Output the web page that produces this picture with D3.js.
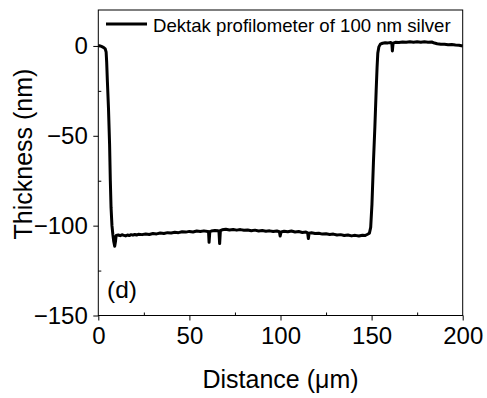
<!DOCTYPE html>
<html>
<head>
<meta charset="utf-8">
<script src="https://cdn.jsdelivr.net/npm/d3@7"></script>
<style>
  html, body { margin: 0; padding: 0; background: #fff; }
  svg text { font-family: "Liberation Sans", Arial, sans-serif; fill: #000; }
</style>
</head>
<body>
<svg id="chart" width="487" height="398"></svg>
<script>
// Surface profile across a 100 nm silver step (Dektak stylus scan)
const distance = [
  0, 1, 2, 3, 3.8, 4.3, 4.6, 5.0, 5.6, 6.2, 6.6, 7.0, 7.5, 8.0, 8.5, 9.0, 9.4, 9.8,
  11, 12, 13, 14, 15, 16, 17, 18, 19, 20, 21, 22, 24, 26, 28, 30, 32, 34, 36, 38,
  40, 42, 44, 46, 48, 50, 52, 54, 56, 58, 60, 60.5, 60.8, 61.2, 62, 64, 65.8, 66.2,
  66.6, 67.0, 68, 70, 72, 74, 76, 78, 80, 82, 84, 86, 88, 90, 92, 94, 96, 98, 99.4,
  99.8, 100.3, 102, 104, 106, 108, 110, 112, 114, 114.9, 115.3, 115.7, 117, 119,
  121, 123, 125, 127, 129, 131, 133, 135, 137, 139, 141, 143, 145, 146.5, 147.8,
  148.8, 149.5, 150.2, 151, 151.8, 152.5, 153, 153.4, 154, 154.8, 156, 157.5, 159,
  160.5, 161.1, 161.4, 161.8, 163, 165, 167, 169, 171, 173, 175, 177, 179, 181, 183,
  184.5, 186, 188, 190, 192, 194, 196, 198, 200
];
const thickness = [
  0.2, 0.0, -0.4, -0.9, -1.6, -3.5, -9, -20, -35, -55, -75, -90, -100, -105, -109, -111.5, -109, -105.5,
  -105.2, -105.6, -105.1, -105.4, -105.7, -105.2, -105.5, -105.0, -105.3, -104.9, -105.2, -104.8, -105.0, -104.6, -104.9, -104.4, -104.6, -104.1, -104.4, -103.9,
  -104.1, -103.7, -103.9, -103.4, -103.6, -103.2, -103.5, -103.0, -103.3, -102.9, -103.2, -103.4, -109.3, -103.3, -103.0, -102.7, -102.9, -103.0,
  -110, -102.8, -102.3, -102.0, -102.4, -102.1, -102.5, -102.2, -102.6, -102.4, -102.8, -102.5, -103.0, -102.7, -103.1, -102.9, -103.3, -103.0, -103.4,
  -105.8, -103.5, -103.1, -103.4, -103.0, -103.5, -103.3, -103.8, -103.6, -104.0, -107.2, -104.2, -104.0, -104.4,
  -104.2, -104.7, -104.5, -104.9, -104.7, -105.2, -105.0, -105.5, -105.2, -105.7, -105.4, -105.8, -105.3, -105.5, -104.8,
  -104.2, -101, -88, -65, -45, -25, -12, -4, -0.5, 1.0, 1.5, 1.8, 1.7,
  1.9, 1.5, -2.8, 1.6, 2.0, 1.9, 2.2, 2.0, 2.3, 2.1, 2.3, 2.0, 2.3, 2.1, 2.2,
  1.6, 1.2, 0.9, 1.0, 0.7, 0.8, 0.5, 0.4, 0.0
];
const xTicks = [0, 50, 100, 150, 200];
const yTicks = [-150, -100, -50, 0];
const xMinor = [25, 75, 125, 175];
const yMinor = [-125, -75, -25];
const legendLabel = "Dektak profilometer of 100 nm silver";
const panelLabel = "(d)";

const svg = d3.select("#chart");
const plot = { left: 98.3, right: 462.7, top: 10, bottom: 315.5 };

const x = d3.scaleLinear().domain([0, 200]).range([plot.left, plot.right]);
const y = d3.scaleLinear().domain([-150, 20]).range([plot.bottom, plot.top]);

// frame
svg.append("rect")
  .attr("x", plot.left).attr("y", plot.top)
  .attr("width", plot.right - plot.left).attr("height", plot.bottom - plot.top)
  .attr("fill", "none").attr("stroke", "#000").attr("stroke-width", 1);

// major ticks with labels (outward)
const xAxis = svg.append("g")
  .attr("transform", `translate(0,${plot.bottom})`)
  .call(d3.axisBottom(x).tickValues(xTicks).tickSize(5).tickPadding(6.5).tickSizeOuter(0));
const yAxis = svg.append("g")
  .attr("transform", `translate(${plot.left},0)`)
  .call(d3.axisLeft(y).tickValues(yTicks).tickSize(5).tickPadding(5.5).tickSizeOuter(0));

// minor ticks (inward)
svg.append("g")
  .attr("transform", `translate(0,${plot.bottom})`)
  .call(d3.axisBottom(x).tickValues(xMinor).tickSize(-3).tickFormat(() => "").tickSizeOuter(0));
svg.append("g")
  .attr("transform", `translate(${plot.left},0)`)
  .call(d3.axisLeft(y).tickValues(yMinor).tickSize(-3).tickFormat(() => "").tickSizeOuter(0));

svg.selectAll(".domain").remove();
svg.selectAll(".tick line").attr("stroke", "#000").attr("stroke-width", 1);
svg.selectAll(".tick text")
  .style("font-family", '"Liberation Sans", Arial, sans-serif')
  .style("font-size", "24px")
  .attr("fill", "#000");

// axis titles
svg.append("text")
  .attr("x", (plot.left + plot.right) / 2).attr("y", 388)
  .attr("text-anchor", "middle")
  .style("font-size", "25px")
  .text("Distance (\u03bcm)");

svg.append("text")
  .attr("transform", `translate(32,154) rotate(-90)`)
  .attr("text-anchor", "middle")
  .style("font-size", "25px")
  .text("Thickness (nm)");

// profile trace
const points = distance.map((d, i) => [d, thickness[i]]);
svg.append("path")
  .datum(points)
  .attr("fill", "none")
  .attr("stroke", "#000")
  .attr("stroke-width", 3)
  .attr("stroke-linejoin", "round")
  .attr("d", d3.line().x(d => x(d[0])).y(d => y(d[1])));

// legend
svg.append("line")
  .attr("x1", 106).attr("x2", 147).attr("y1", 24).attr("y2", 24)
  .attr("stroke", "#000").attr("stroke-width", 3);
svg.append("text")
  .attr("x", 153).attr("y", 31.5)
  .style("font-size", "18.6px")
  .text(legendLabel);

// panel label
svg.append("text")
  .attr("x", 107).attr("y", 298)
  .style("font-size", "24.5px")
  .text(panelLabel);
</script>
</body>
</html>
